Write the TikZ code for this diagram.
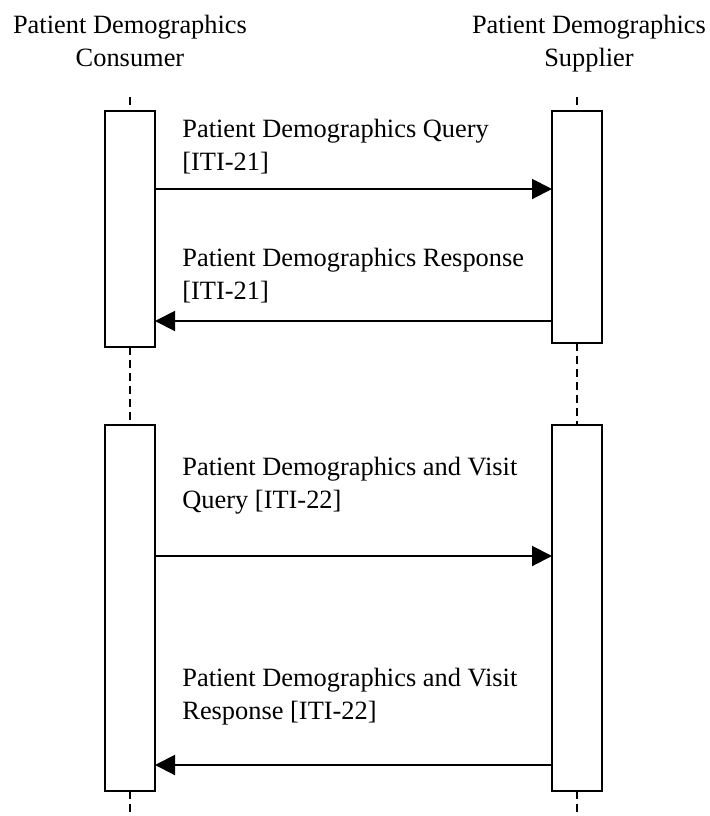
\documentclass[tikz,border=0pt]{standalone}
\usepackage{fontspec}
\setmainfont{Liberation Serif}
\usetikzlibrary{arrows.meta}
\begin{document}
\begin{tikzpicture}[x=0.5pt,y=-0.5pt,font=\fontsize{13.2pt}{16.75pt}\selectfont,line join=miter,>={Triangle[length=10pt,width=10pt]}]
	\tikzset{actbox/.style={draw,line width=1pt,fill=white,inner sep=0pt,outer sep=0pt,minimum width=25pt},
		life/.style={line width=0.8pt,dash pattern=on 4pt off 2.5pt},
		msg/.style={->,line width=1pt},
		msglabel/.style={anchor=north west,align=left,inner sep=0pt},
		actor/.style={anchor=north,align=center,inner sep=0pt}}
	\useasboundingbox (0,0) rectangle (709,816);
	% headers
	\node[actor] (cons) at (130,14.5) {Patient Demographics\\Consumer};
	\node[actor] (supp) at (589,14.5) {Patient Demographics\\Supplier};
	% activation boxes
	\node[actbox,minimum height=118pt] (cbox1) at (130,229) {};
	\node[actbox,minimum height=116pt] (sbox1) at (577,227) {};
	\node[actbox,minimum height=183pt] (cbox2) at (130,608) {};
	\node[actbox,minimum height=183pt] (sbox2) at (577,608) {};
	% lifelines
	\coordinate (ctop) at (130,97);
	\coordinate (stop) at (577,97);
	\coordinate (cbot) at (130,816);
	\coordinate (sbot) at (577,816);
	\draw[life] (ctop) -- (cbox1.north);
	\draw[life] (cbox1.south) -- (cbox2.north);
	\draw[life] (cbox2.south) -- (cbot);
	\draw[life] (stop) -- (sbox1.north);
	\draw[life] (sbox1.south) -- (sbox2.north);
	\draw[life] (sbox2.south) -- (sbot);
	% messages
	\coordinate (m1) at (0,189);
	\coordinate (m2) at (0,321);
	\coordinate (m3) at (0,556);
	\coordinate (m4) at (0,765);
	\draw[msg] (cbox1.east |- m1) -- (sbox1.west |- m1);
	\draw[msg] (sbox1.west |- m2) -- (cbox1.east |- m2);
	\draw[msg] (cbox2.east |- m3) -- (sbox2.west |- m3);
	\draw[msg] (sbox2.west |- m4) -- (cbox2.east |- m4);
	\node[msglabel] (l1) at (182,118.5) {Patient Demographics Query\\{[ITI-21]}};
	\node[msglabel] (l2) at (182,247.5) {Patient Demographics Response\\{[ITI-21]}};
	\node[msglabel] (l3) at (182,456.5) {Patient Demographics and Visit\\Query [ITI-22]};
	\node[msglabel] (l4) at (182,667.5) {Patient Demographics and Visit\\Response [ITI-22]};
\end{tikzpicture}
\end{document}
